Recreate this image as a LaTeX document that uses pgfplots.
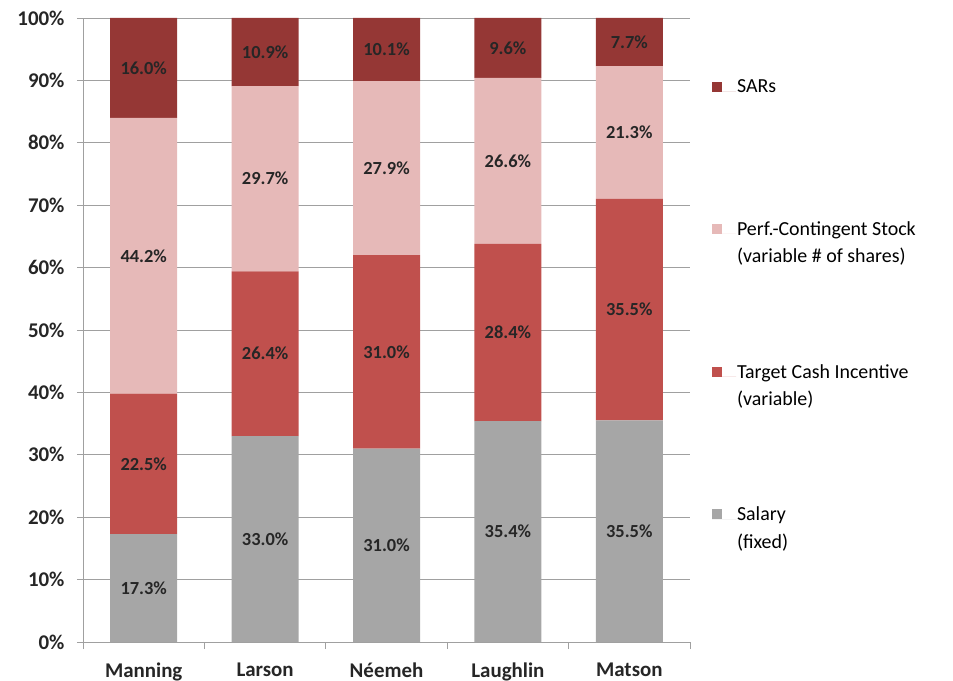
\documentclass[border=0pt]{standalone}
\usepackage{pgfplots}
\pgfplotsset{compat=1.18}
\usepackage{fontspec}
\setmainfont{Carlito}
\definecolor{sars}{HTML}{953735}
\definecolor{perf}{HTML}{E6B9B8}
\definecolor{cash}{HTML}{C0504D}
\definecolor{salary}{HTML}{A6A6A6}
\definecolor{gridc}{HTML}{A0A0A0}
\begin{document}
\begin{tikzpicture}
\useasboundingbox (-83bp,-39bp) rectangle (870bp,642bp);
\begin{axis}[
  at={(0,0)}, anchor=south west,
  scale only axis, width=607bp, height=624bp,
  ybar stacked, bar width=67bp,
  xmin=-0.5, xmax=4.5, ymin=0, ymax=100,
  xtick={0,...,4},
  xticklabels={Manning,Larson,N\'eemeh,Laughlin,Matson},
  minor xtick={-0.5,0.5,...,4.5},
  major x tick style={draw=none},
  ytick={0,10,...,100},
  yticklabel={\pgfmathprintnumber{\tick}\%},
  /pgf/number format/assume math mode=true,
  tick align=outside,
  major tick length=6bp, minor tick length=7bp,
  tick style={gridc, line width=0.8bp},
  ymajorgrids, grid style={gridc, line width=0.8bp},
  axis x line*=bottom, axis y line*=left,
  axis line style={gridc, line width=0.8bp},
  ticklabel style={font=\fontsize{21}{21}\selectfont\bfseries, text=black!85},
  xticklabel style={yshift=-11bp},
  yticklabel style={xshift=-9bp},
  point meta=rawy,
  nodes near coords={\pgfmathprintnumber[fixed,fixed zerofill,precision=1]{\pgfplotspointmeta}\%},
  every node near coord/.append style={anchor=center, font=\fontsize{18.5}{18.5}\selectfont\bfseries, text=black!85},
  legend cell align=left,
  reverse legend,
  legend image code/.code={\fill[#1] (0bp,9bp) rectangle (10bp,19bp); \path (0bp,9bp) -- (24bp,9bp);},
  legend style={draw=none, fill=none, at={(1.036,0.903)}, anchor=north west,
    font=\fontsize{20}{27.5}\selectfont, inner sep=0pt,
    nodes={align=left, inner sep=1bp},
    row sep=98bp},
]
\addplot[fill=salary, draw=none] coordinates {(0,17.3) (1,33.0) (2,31.0) (3,35.4) (4,35.5)};
\addplot[fill=cash, draw=none] coordinates {(0,22.5) (1,26.4) (2,31.0) (3,28.4) (4,35.5)};
\addplot[fill=perf, draw=none] coordinates {(0,44.2) (1,29.7) (2,27.9) (3,26.6) (4,21.3)};
\addplot[fill=sars, draw=none] coordinates {(0,16.0) (1,10.9) (2,10.1) (3,9.6) (4,7.7)};
\legend{{Salary\\(fixed)},{Target Cash Incentive\\(variable)},{Perf.-Contingent Stock\\(variable \# of shares)},{SARs\\\phantom{(}}}
\end{axis}
\end{tikzpicture}
\end{document}
